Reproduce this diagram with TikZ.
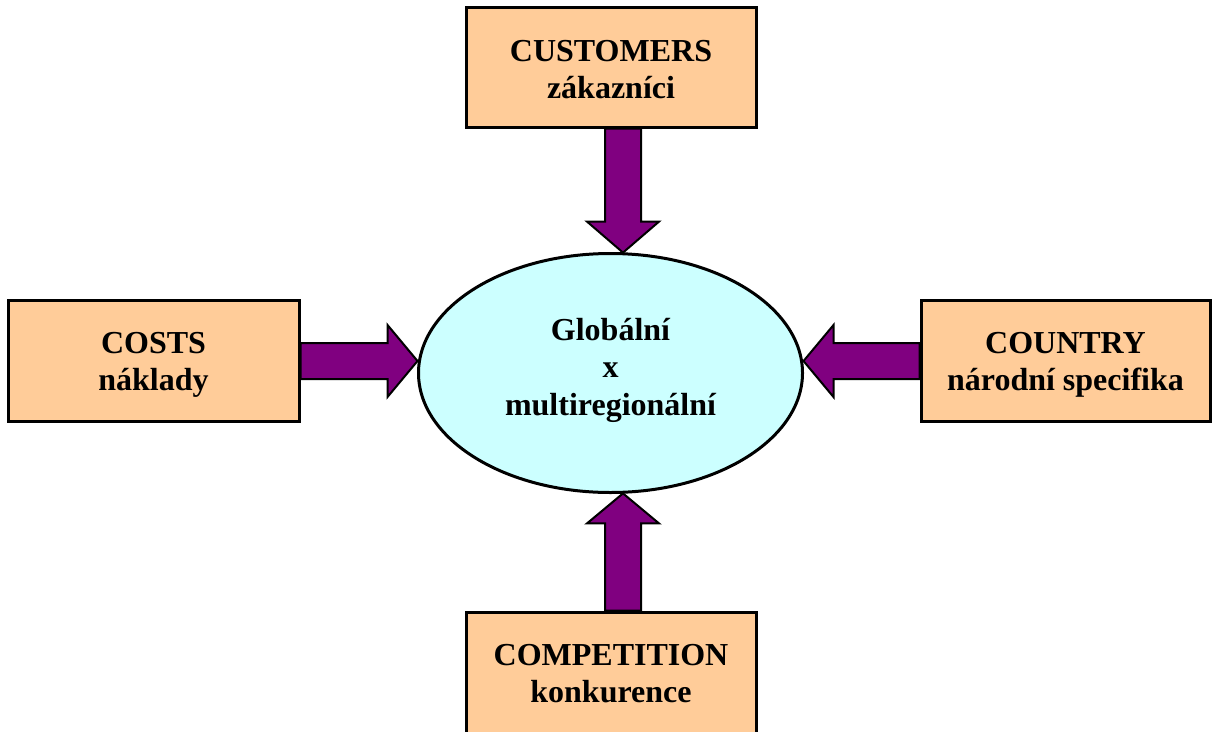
\documentclass[tikz,border=0pt]{standalone}
\usepackage{fontspec}
\setmainfont{Liberation Serif}
\usetikzlibrary{shapes.geometric,calc,backgrounds}

\definecolor{boxfill}{HTML}{FFCC99}
\definecolor{ovalfill}{HTML}{CCFFFF}
\definecolor{arrowfill}{HTML}{800080}

% invisible struts used to fine-tune the vertical placement of the labels
\newcommand\toplift[1]{\rule{0pt}{#1}}
\newcommand\botdrop[1]{\rule[-#1]{0pt}{0pt}}

\tikzset{
  factor/.style={draw=black, line width=3pt, fill=boxfill, rectangle,
    inner sep=0pt, align=center,
    font=\fontsize{32}{36.5}\selectfont\bfseries},
  centre/.style={draw=black, line width=3pt, fill=ovalfill, ellipse,
    inner sep=0pt, minimum width=384pt, minimum height=239pt, align=center,
    font=\fontsize{32}{37.5}\selectfont\bfseries},
  fatarrow/.style={draw=black, line width=2pt, fill=arrowfill, line join=miter}
}

\begin{document}
\begin{tikzpicture}[x=1pt, y=-1pt]
  \useasboundingbox (0,0) rectangle (1212,731);

  % central strategy question
  \node[centre] (glob) at (610.5,373) {Globální\\x\\multiregionální\botdrop{13pt}};

  % the four driving factors
  \node[factor, minimum width=290pt, minimum height=120pt] (cust) at (611,67)
    {\toplift{26pt}CUSTOMERS\\zákazníci};
  \node[factor, minimum width=291pt, minimum height=121pt] (cost) at (153.5,361)
    {\toplift{29pt}COSTS\\náklady};
  \node[factor, minimum width=289pt, minimum height=121pt] (ctry) at (1065.5,361)
    {\toplift{29pt}COUNTRY\\národní specifika};
  \node[factor, minimum width=290pt, minimum height=123pt] (comp) at (611,673.5)
    {COMPETITION\\konkurence};

  % axis of the two vertical arrows (slightly right of the box centres)
  \coordinate (vaxis) at (623,0);
  % arrow ends
  \coordinate (custbase) at (vaxis |- cust.south);
  \coordinate (custtip)  at ($(vaxis |- glob.north)+(0,0.6)$);
  \coordinate (compbase) at (vaxis |- comp.north);
  \coordinate (comptip)  at ($(vaxis |- glob.south)+(0,-0.6)$);
  \coordinate (costbase) at (cost.east);
  \coordinate (costtip)  at ($(glob.west |- cost.east)+(0.5,0)$);
  \coordinate (ctrybase) at (ctry.west);
  \coordinate (ctrytip)  at ($(glob.east |- ctry.west)+(-0.5,0)$);

  % block arrows from each factor to the centre
  \begin{scope}[on background layer]
    % customers -> centre (downwards)
    \draw[fatarrow]
      ($(custbase)+(-18,0)$) -- ($(custtip)+(-18,-31)$)
      -- ($(custtip)+(-36,-31)$) -- (custtip)
      -- ($(custtip)+(36,-31)$) -- ($(custtip)+(18,-31)$)
      -- ($(custbase)+(18,0)$) -- cycle;
    % competition -> centre (upwards)
    \draw[fatarrow]
      ($(compbase)+(-18,0)$) -- ($(comptip)+(-18,30)$)
      -- ($(comptip)+(-36,30)$) -- (comptip)
      -- ($(comptip)+(36,30)$) -- ($(comptip)+(18,30)$)
      -- ($(compbase)+(18,0)$) -- cycle;
    % costs -> centre (rightwards)
    \draw[fatarrow]
      ($(costbase)+(0,-18)$) -- ($(costtip)+(-30,-18)$)
      -- ($(costtip)+(-30,-36)$) -- (costtip)
      -- ($(costtip)+(-30,36)$) -- ($(costtip)+(-30,18)$)
      -- ($(costbase)+(0,18)$) -- cycle;
    % country -> centre (leftwards)
    \draw[fatarrow]
      ($(ctrybase)+(0,-18)$) -- ($(ctrytip)+(30,-18)$)
      -- ($(ctrytip)+(30,-36)$) -- (ctrytip)
      -- ($(ctrytip)+(30,36)$) -- ($(ctrytip)+(30,18)$)
      -- ($(ctrybase)+(0,18)$) -- cycle;
  \end{scope}
\end{tikzpicture}
\end{document}
